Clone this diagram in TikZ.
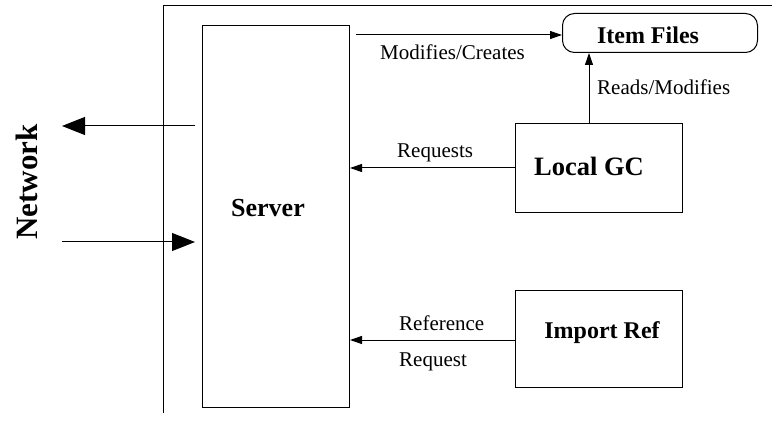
\documentclass[tikz,border=0pt]{standalone}
\usepackage{fontspec}
\setmainfont{Liberation Serif}
\usetikzlibrary{arrows.meta}
\tikzset{
  box/.style={draw, line width=1pt, inner sep=0pt},
  lbl/.style={font=\fontsize{21}{23}\selectfont, inner sep=0pt},
  ttl/.style={font=\fontsize{24}{26}\selectfont\bfseries, inner sep=0pt},
  link/.style={line width=1pt, -{Triangle[length=12pt,width=8pt]}},
  netlink/.style={line width=1pt, -{Triangle[length=23pt,width=18pt]}},
}
\begin{document}
\begin{tikzpicture}[x=1pt,y=-1pt]
  \useasboundingbox (0,0) rectangle (772,425);

  % enclosing boundary of the host
  \draw[line width=1pt] (163,413) -- (163,6) -- (772,6);

  % components
  \node[box, minimum width=147pt, minimum height=382pt, anchor=north west] (server) at (202,25) {};
  \node[ttl, font=\fontsize{26}{28}\selectfont\bfseries] at (268,208) {Server};

  \node[box, rounded corners=12pt, minimum width=195pt, minimum height=39pt, anchor=north west] (items) at (562,13) {};
  \node[ttl] at (648,35) {Item Files};

  \node[box, minimum width=167pt, minimum height=89pt, anchor=north west] (gc) at (515,123) {};
  \node[ttl, font=\fontsize{26.5}{28}\selectfont\bfseries] at (589,166) {Local GC};

  \node[box, minimum width=167pt, minimum height=97pt, anchor=north west] (imp) at (515,290) {};
  \node[ttl] at (602,333) {Import Ref};

  % network label
  \node[font=\fontsize{31}{33}\selectfont\bfseries, rotate=90, inner sep=0pt] (net) at (27,182) {Network};

  % network traffic
  \coordinate (outS) at (195,126);
  \coordinate (outE) at (62,126);
  \coordinate (inS) at (62,242);
  \coordinate (inE) at (195,242);
  \draw[netlink] (outS) -- (outE);
  \draw[netlink] (inS) -- (inE);

  % server writes item files
  \coordinate (mcS) at (356,35);
  \draw[link] (mcS) -- (items.west |- mcS);
  \node[lbl, anchor=west] at (380,52) {Modifies/Creates};

  % local GC reads item files
  \draw[link] (gc.north -| 589,0) -- (items.south -| 589,0);
  \node[lbl, anchor=west] at (597,87) {Reads/Modifies};

  % requests to the server
  \draw[link] (gc.west |- 0,168) -- (server.east |- 0,168);
  \node[lbl, anchor=west] at (397,153) {Requests};

  \draw[link] (imp.west |- 0,340) -- (server.east |- 0,340);
  \node[lbl, anchor=west] at (399,323) {Reference};
  \node[lbl, anchor=west] at (399,362) {Request};
\end{tikzpicture}
\end{document}
